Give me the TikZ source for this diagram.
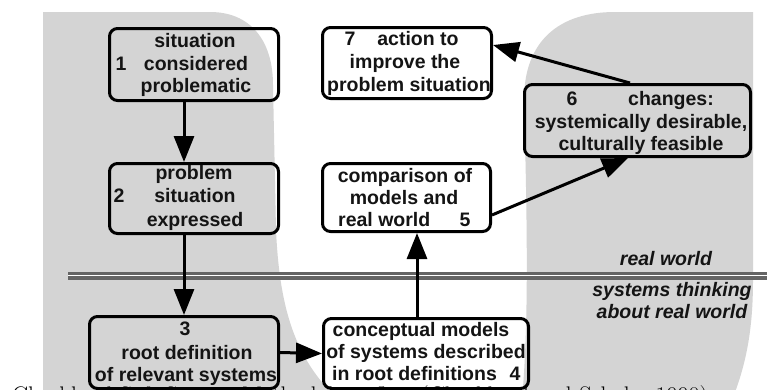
\documentclass[tikz,border=0pt]{standalone}
\usepackage{fontspec}
\newfontfamily\arialf{Liberation Sans}
\usetikzlibrary{arrows.meta}
\definecolor{bggray}{RGB}{212,212,212}
\definecolor{sepgray}{RGB}{100,100,100}
\definecolor{inkc}{RGB}{20,20,20}
\tikzset{
  boxst/.style={draw=black, line width=3pt, rounded corners=8pt, inner sep=0pt},
  tx/.style={font=\arialf\bfseries\fontsize{19.5}{23}\selectfont, text=inkc, inner sep=0pt, text height=14pt, text depth=4pt, anchor=center},
  lbl/.style={tx, font=\arialf\bfseries\itshape\fontsize{19.5}{23}\selectfont},
  arr/.style={line width=3pt, draw=black, -{Triangle[length=26pt,width=20pt]}},
  sepline/.style={draw=sepgray, line width=3.4pt, double=white, double distance=1.2pt},
  captx/.style={font=\rmfamily\fontsize{24}{28}\selectfont, inner sep=0pt, anchor=base west, text=black},
}
\begin{document}
\begin{tikzpicture}[x=1pt, y=-1pt]
\useasboundingbox (0,0) rectangle (767,389);
\clip (0,0) rectangle (767,389);
\fill[white] (0,0) rectangle (767,389);
% background gray strokes
\fill[bggray] (43,12) -- (210,12) .. controls (250,12) and (273,40) .. (273,85)
  -- (276,230) .. controls (280,320) and (300,362) .. (338,400) -- (43,400) -- cycle;
\fill[bggray] (524,100) .. controls (524,40) and (560,12) .. (615,12) -- (753,12)
  -- (753,280) .. controls (753,330) and (746,365) .. (732,400) -- (522,400)
  .. controls (528,330) and (528,250) .. (524,100) -- cycle;
% separator
\draw[sepline] (68,275.5) -- (767,275.5);
% boxes
\node[boxst, minimum width=169pt, minimum height=72pt] (b1) at (194,64.5) {};
\node[boxst, minimum width=169pt, minimum height=70pt] (b2) at (194,198.5) {};
\node[boxst, minimum width=189pt, minimum height=72pt] (b3) at (184,352.5) {};
\node[boxst, minimum width=205pt, minimum height=70pt] (b4) at (426,353.5) {};
\node[boxst, minimum width=168pt, minimum height=68pt] (b5) at (406.5,197.5) {};
\node[boxst, minimum width=226pt, minimum height=72pt] (b6) at (637.5,120.5) {};
\node[boxst, minimum width=169pt, minimum height=71pt] (b7) at (407,63) {};
% box 1 texts
\node[tx] (t1a) at (195,42) {situation};
\node[tx] (t1n) at (121,65) {1};
\node[tx] (t1b) at (196,65) {considered};
\node[tx] (t1c) at (196,87) {problematic};
% box 2 texts
\node[tx] (t2a) at (194,174) {problem};
\node[tx] (t2n) at (119,197.5) {2};
\node[tx] (t2b) at (195,197.5) {situation};
\node[tx] (t2c) at (195,221) {expressed};
% box 3 texts
\node[tx] (t3n) at (185,330) {3};
\node[tx] (t3a) at (187,354) {root definition};
\node[tx] (t3b) at (186,376) {of relevant systems};
% box 4 texts
\node[tx] (t4a) at (421,331) {conceptual models};
\node[tx] (t4b) at (426,353) {of systems described};
\node[tx, anchor=west] (t4c) at (332,375) {in root definitions};
\node[tx] (t4n) at (515,375) {4};
% box 5 texts
\node[tx] (t5a) at (405,177) {comparison of};
\node[tx] (t5b) at (404,199) {models and};
\node[tx, anchor=west] (t5c) at (338,221) {real world};
\node[tx] (t5n) at (465,221) {5};
% box 7 texts
\node[tx] (t7n) at (350,40) {7};
\node[tx] (t7a) at (418,40) {action to};
\node[tx] (t7b) at (405,63) {improve the};
\node[tx] (t7c) at (409,86) {problem situation};
% box 6 texts
\node[tx] (t6n) at (572,100) {6};
\node[tx] (t6a) at (671,100) {changes:};
\node[tx] (t6b) at (641,123) {systemically desirable,};
\node[tx] (t6c) at (641,145) {culturally feasible};
% labels
\node[lbl] (lrw) at (666,260) {real world};
\node[lbl] (lst) at (672,291) {systems thinking};
\node[lbl] (lab) at (672,313) {about real world};
% arrows
\draw[arr] ([xshift=-10pt]b1.south) -- ([xshift=-10pt]b2.north);
\draw[arr] ([xshift=-10pt]b2.south) -- (b3.north);
\draw[arr] (b3.east) -- (b4.west);
\draw[arr] ([xshift=-9pt]b4.north) -- ([xshift=10.5pt]b5.south);
\draw[arr] ([yshift=-17.5pt]b5.east) -- ([xshift=-9.5pt]b6.south);
\draw[arr] ([xshift=-7.5pt]b6.north) -- ([yshift=18pt]b7.east);
% caption (cut off by the picture edge)
\node[captx] (cap) at (12,403.5) {Checkland Soft System Methodology flow (Checkland and Scholes 1990)};
\end{tikzpicture}
\end{document}
